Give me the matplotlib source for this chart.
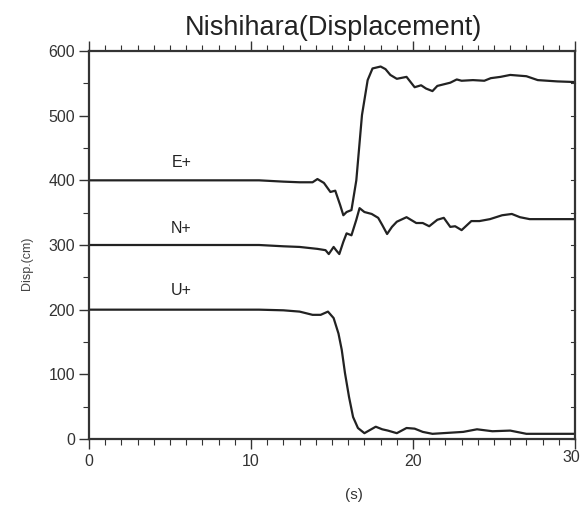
import matplotlib.pyplot as plt
from matplotlib.ticker import MultipleLocator, FixedLocator, FixedFormatter

plt.rcParams['font.family'] = ['Liberation Sans', 'DejaVu Sans']

# displacement traces (time in s, displacement in cm, offset per component)
t_e = [0, 10.5, 12.0, 13.0, 13.8, 14.1, 14.5, 14.9, 15.2, 15.5, 15.7, 15.9, 16.2,
       16.5, 16.85, 17.2, 17.5, 18.0, 18.3, 18.6, 19.0, 19.6, 20.1, 20.5, 20.8,
       21.2, 21.5, 22.3, 22.7, 23.0, 23.7, 24.4, 24.8, 25.4, 26.0, 27.0, 27.7,
       28.9, 30.0]
d_e = [400, 400, 398, 397, 397, 402, 396, 382, 384, 362, 346, 351, 354,
       400, 501, 555, 573, 576, 572, 563, 557, 560, 544, 547, 542,
       538, 546, 551, 556, 554, 555, 554, 558, 560, 563, 561, 555,
       553, 552]

t_n = [0, 10.5, 12.0, 13.0, 14.1, 14.6, 14.8, 15.1, 15.25, 15.45, 15.7, 15.9,
       16.2, 16.5, 16.7, 17.0, 17.45, 17.85, 18.1, 18.4, 18.7, 19.0, 19.6,
       20.2, 20.6, 21.0, 21.5, 21.9, 22.3, 22.6, 23.0, 23.6, 24.1, 24.75,
       25.5, 26.1, 26.6, 27.2, 28.5, 30.0]
d_n = [300, 300, 298, 297, 294, 292, 286, 297, 292, 286, 305, 318,
       315, 339, 357, 351, 348, 342, 331, 317, 328, 336, 343,
       334, 334, 329, 339, 342, 328, 329, 323, 337, 337, 340,
       346, 348, 343, 340, 340, 340]

t_u = [0, 10.5, 12.0, 13.0, 13.8, 14.3, 14.75, 15.1, 15.4, 15.6, 15.8, 16.05,
       16.3, 16.6, 17.0, 17.35, 17.7, 18.1, 18.45, 19.0, 19.6, 20.1, 20.6,
       21.2, 23.1, 23.95, 24.9, 26.0, 27.0, 30.0]
d_u = [200, 200, 199, 197, 192, 192, 197, 187, 163, 138, 102, 65,
       34, 17, 9, 14, 19, 15, 13, 9, 17, 16, 11,
       8, 11, 15, 12, 13, 8, 8]

labels = ['E+', 'N+', 'U+']
label_y = [428, 326, 229]
x_ticks = [0, 10, 20, 30]

fig = plt.figure(figsize=(5.81, 5.05), dpi=100)
ax = fig.add_axes([0.1532, 0.1307, 0.8365, 0.7683])

line_kw = dict(color='#222222', lw=1.6, solid_joinstyle='round')
ax.plot(t_e, d_e, **line_kw)
ax.plot(t_n, d_n, **line_kw)
ax.plot(t_u, d_u, **line_kw)

for lab, yy in zip(labels, label_y):
    ax.text(5.7, yy, lab, fontsize=11.5, color='#222222', ha='center', va='center')

ax.set_xlim(0, 30)
ax.set_ylim(0, 600)

# last time label is drawn separately so it stays inside the figure
ax.xaxis.set_major_locator(FixedLocator(x_ticks))
ax.xaxis.set_major_formatter(FixedFormatter([str(v) for v in x_ticks[:-1]] + ['']))
ax.xaxis.set_minor_locator(MultipleLocator(1))
ax.yaxis.set_major_locator(MultipleLocator(100))
ax.yaxis.set_minor_locator(MultipleLocator(50))

ax.tick_params(axis='x', which='both', direction='out', top=True, bottom=True,
               color='#333333', labelsize=11.5, labelcolor='#333333', pad=4)
ax.tick_params(axis='x', which='major', length=7, width=1)
ax.tick_params(axis='x', which='minor', length=4, width=0.8)
ax.tick_params(axis='y', which='both', direction='out', left=True, right=False,
               color='#333333', labelsize=11.5, labelcolor='#333333', pad=3)
ax.tick_params(axis='y', which='major', length=7, width=1)
ax.tick_params(axis='y', which='minor', length=4, width=0.8)

ax.annotate(str(x_ticks[-1]), xy=(x_ticks[-1], 0), xycoords='data',
            xytext=(-4, -11), textcoords='offset pixels',
            ha='center', va='top', fontsize=11.5, color='#333333')

# inward ticks along the right edge every 50 cm
for v in range(0, 601, 50):
    ax.plot([30, 29.75], [v, v], color='#333333', lw=0.8, clip_on=False)

for side in ['left', 'bottom', 'top', 'right']:
    ax.spines[side].set_linewidth(1.6)
    ax.spines[side].set_color('#333333')

fig.text(0.573, 0.945, 'Nishihara(Displacement)', fontsize=19.5, color='#222222',
         ha='center', va='center')
fig.text(0.047, 0.478, 'Disp.(cm)', fontsize=9, color='#444444', rotation=90,
         ha='center', va='center')
fig.text(0.609, 0.02, '(s)', fontsize=11, color='#333333', ha='center', va='center')

fig.savefig('out.png', dpi=100)
